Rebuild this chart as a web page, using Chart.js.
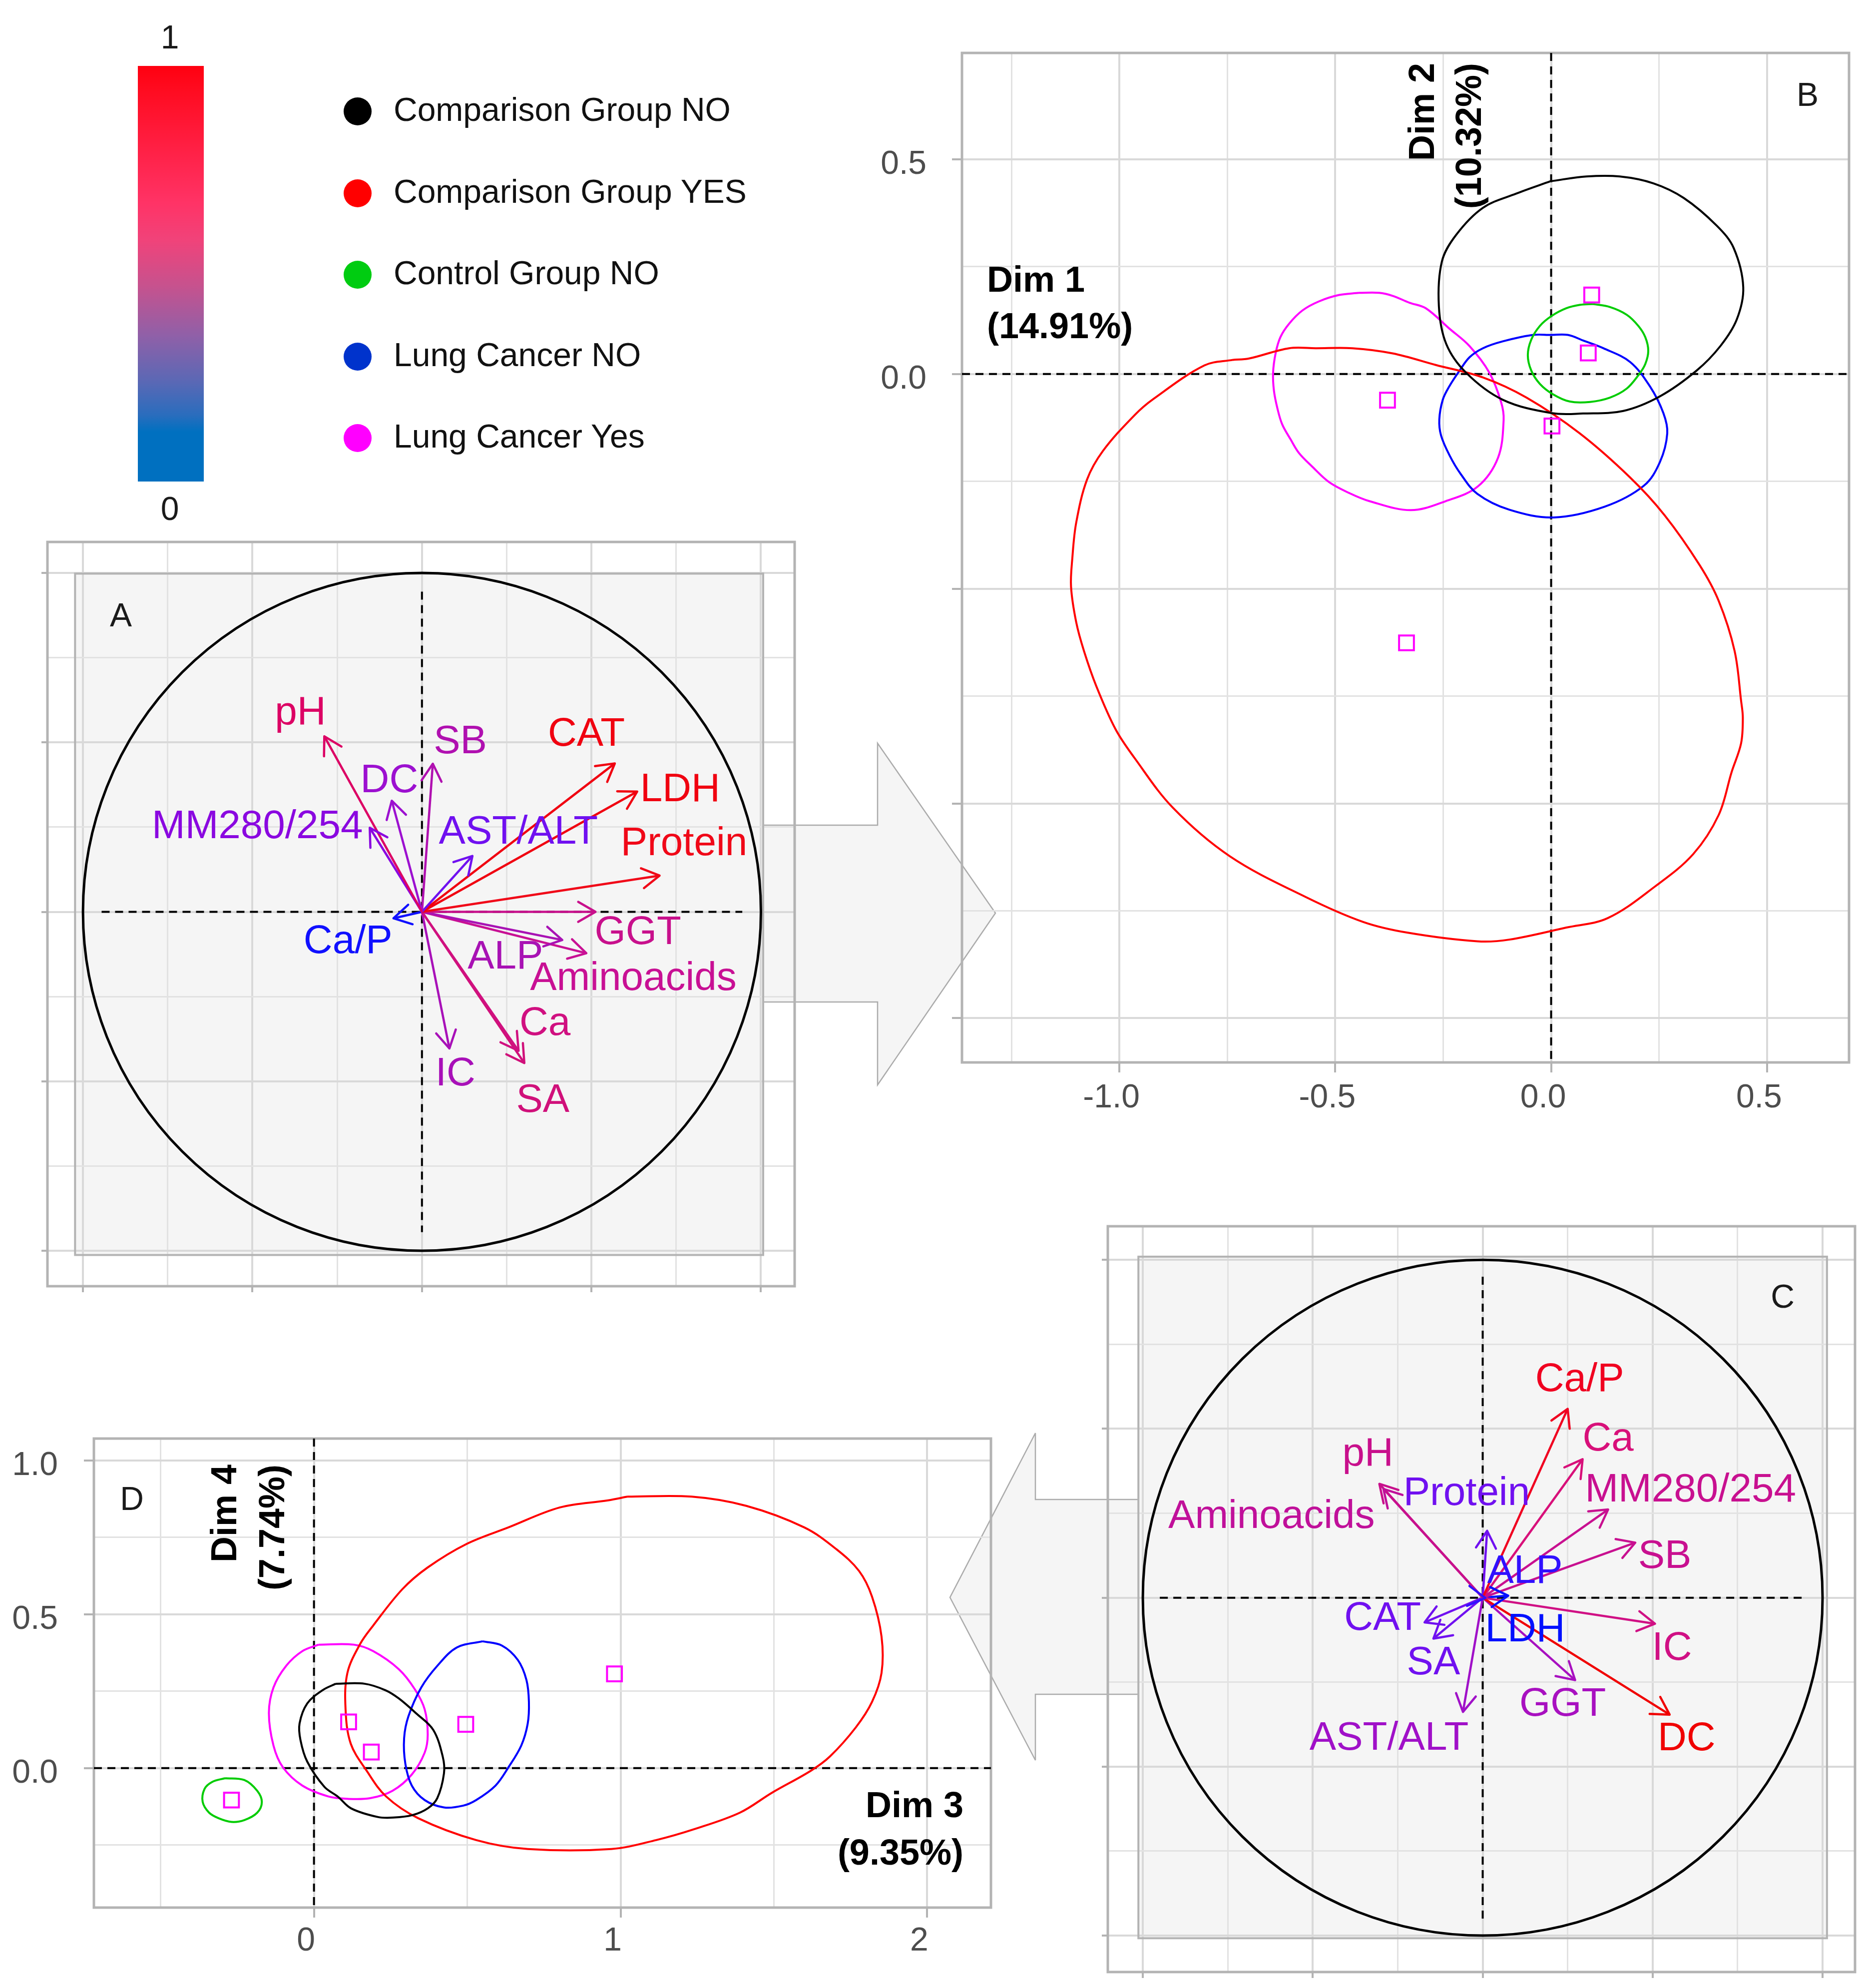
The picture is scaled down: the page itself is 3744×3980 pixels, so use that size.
<!DOCTYPE html>
<html>
<head>
<meta charset="utf-8">
<title>PCA biplots</title>
<script src="https://cdn.jsdelivr.net/npm/chart.js@4.4.0/dist/chart.umd.min.js"></script>
<style>
  html, body { margin: 0; padding: 0; background: #fff; }
  #page { position: relative; width: 3744px; height: 3980px; overflow: hidden;
          font-family: "Liberation Sans", Arial, sans-serif; color: #1a1a1a; }
  #page canvas, #page svg, .t { position: absolute; }
  .t { white-space: nowrap; }
</style>
</head>
<body>
<div id="page">
  <svg width="3744" height="3980" style="left:0;top:0">
    <polygon points="1528,1652 1757,1652 1757,1488 1993,1828 1757,2172 1757,2006 1528,2006" fill="#f5f5f5"/>
    <polyline points="1528,1652 1757,1652 1757,1488 1993,1828 1757,2172 1757,2006 1528,2006" fill="none" stroke="#ababab" stroke-width="2.5"/>
    <polygon points="2280,3002 2073,3002 2073,2869 1902,3198 2073,3524 2073,3392 2280,3392" fill="#f5f5f5"/>
    <polyline points="2280,3002 2073,3002 2073,2869 1902,3198 2073,3524 2073,3392 2280,3392" fill="none" stroke="#ababab" stroke-width="2.5"/>
  </svg>
  <canvas id="chartA" width="1516" height="1510" style="left:79px;top:1081px"></canvas>
  <canvas id="chartB" width="1986" height="2155" style="left:1726px;top:102px"></canvas>
  <canvas id="chartC" width="1516" height="1513" style="left:2202px;top:2451px"></canvas>
  <canvas id="chartD" width="1988" height="1073" style="left:0px;top:2876px"></canvas>
  <div style="position:absolute;left:276px;top:132px;width:132px;height:832px;
    background:linear-gradient(to bottom,#ff0010 0%,#ff0a1e 5%,#ff3366 33%,#f0437a 42%,#c6528e 53%,#8f60a8 65%,#5a68b5 76%,#2a6dbd 84%,#0070c0 88%,#0070c0 100%)"></div>
</div>
<script>
// groups (legend order)
const groups = ['Comparison Group NO', 'Comparison Group YES', 'Control Group NO', 'Lung Cancer NO', 'Lung Cancer Yes'];
const colorbarTicks = ['1', '0'];

// panel A: variable coordinates on Dim 1 / Dim 2
const varsA = ['pH', 'DC', 'MM280/254', 'SB', 'AST/ALT', 'CAT', 'LDH', 'Protein', 'GGT', 'ALP', 'Aminoacids', 'Ca', 'SA', 'IC', 'Ca/P'];
const dim1A = [-0.288, -0.089, -0.154, 0.032, 0.149, 0.569, 0.635, 0.701, 0.512, 0.414, 0.485, 0.285, 0.302, 0.081, -0.084];
const dim2A = [0.518, 0.328, 0.248, 0.437, 0.165, 0.438, 0.355, 0.107, 0.000, -0.083, -0.122, -0.410, -0.446, -0.403, -0.019];

// panel C: variable coordinates on Dim 3 / Dim 4
const varsC = ['Ca/P', 'Ca', 'MM280/254', 'SB', 'IC', 'DC', 'GGT', 'LDH', 'ALP', 'Protein', 'pH', 'Aminoacids', 'CAT', 'SA', 'AST/ALT'];
const dim3C = [0.250, 0.294, 0.369, 0.449, 0.507, 0.550, 0.272, 0.075, 0.008, 0.013, -0.304, -0.292, -0.171, -0.145, -0.058];
const dim4C = [0.559, 0.410, 0.261, 0.163, -0.077, -0.346, -0.244, 0.006, -0.001, 0.198, 0.337, 0.322, -0.073, -0.121, -0.338];

// panel B: ellipse outlines per group (Dim 1, Dim 2)
const ellB_compNo = [[-0.001,0.449],[0.082,0.460],[0.159,0.460],[0.237,0.444],[0.307,0.410],[0.384,0.345],[0.423,0.293],[0.445,0.202],[0.430,0.127],[0.392,0.065],[0.337,0.008],[0.252,-0.052],[0.167,-0.086],[0.074,-0.092],[0.001,-0.091],[-0.112,-0.060],[-0.197,0.003],[-0.243,0.070],[-0.260,0.158],[-0.253,0.262],[-0.220,0.324],[-0.158,0.387],[-0.081,0.420]];
const ellB_compYes = [[-0.737,0.033],[-0.700,0.036],[-0.607,0.060],[-0.545,0.060],[-0.460,0.060],[-0.367,0.048],[-0.267,0.021],[-0.158,-0.008],[-0.057,-0.055],[0.066,-0.138],[0.183,-0.241],[0.263,-0.329],[0.344,-0.445],[0.388,-0.528],[0.425,-0.645],[0.440,-0.761],[0.444,-0.800],[0.440,-0.860],[0.418,-0.927],[0.388,-1.027],[0.329,-1.118],[0.241,-1.193],[0.131,-1.267],[0.035,-1.289],[-0.097,-1.317],[-0.171,-1.321],[-0.332,-1.301],[-0.435,-1.276],[-0.568,-1.218],[-0.744,-1.123],[-0.876,-1.010],[-0.965,-0.894],[-1.009,-0.827],[-1.053,-0.728],[-1.082,-0.645],[-1.100,-0.578],[-1.112,-0.495],[-1.109,-0.429],[-1.100,-0.346],[-1.075,-0.246],[-1.038,-0.179],[-0.965,-0.096],[-0.921,-0.058],[-0.803,0.020]];
const ellB_ctrlNo = [[0.097,0.163],[0.136,0.156],[0.175,0.138],[0.202,0.112],[0.218,0.086],[0.225,0.054],[0.218,0.023],[0.202,-0.003],[0.175,-0.034],[0.136,-0.055],[0.090,-0.065],[0.043,-0.064],[0.004,-0.047],[-0.026,-0.023],[-0.046,0.008],[-0.054,0.044],[-0.046,0.080],[-0.026,0.112],[0.001,0.135],[0.035,0.153],[0.067,0.161]];
const ellB_lungNo = [[-0.001,0.091],[0.039,0.091],[0.074,0.078],[0.121,0.060],[0.183,0.028],[0.229,-0.029],[0.260,-0.091],[0.269,-0.138],[0.252,-0.205],[0.215,-0.260],[0.124,-0.309],[0.006,-0.334],[-0.097,-0.316],[-0.171,-0.279],[-0.210,-0.232],[-0.235,-0.190],[-0.255,-0.143],[-0.259,-0.106],[-0.251,-0.060],[-0.236,-0.029],[-0.212,0.008],[-0.189,0.039],[-0.158,0.060],[-0.112,0.076],[-0.042,0.091]];
const ellB_lungYes = [[-0.445,0.189],[-0.398,0.189],[-0.367,0.182],[-0.328,0.166],[-0.290,0.153],[-0.236,0.106],[-0.189,0.065],[-0.143,0.003],[-0.116,-0.065],[-0.110,-0.107],[-0.123,-0.195],[-0.170,-0.262],[-0.244,-0.296],[-0.325,-0.317],[-0.421,-0.296],[-0.468,-0.277],[-0.514,-0.252],[-0.553,-0.216],[-0.584,-0.184],[-0.603,-0.153],[-0.623,-0.117],[-0.634,-0.080],[-0.642,-0.039],[-0.644,0.003],[-0.638,0.049],[-0.627,0.086],[-0.607,0.117],[-0.576,0.148],[-0.538,0.169],[-0.491,0.184]];
const meanB_x = [0.094, 0.086, 0.002, -0.379, -0.335];
const meanB_y = [0.184, 0.049, -0.121, -0.061, -0.626];

// panel D: ellipse outlines per group (Dim 3, Dim 4)
const ellD_compNo = [[0.071,0.274],[0.165,0.274],[0.233,0.253],[0.277,0.226],[0.333,0.178],[0.389,0.124],[0.420,0.037],[0.424,-0.017],[0.402,-0.098],[0.371,-0.131],[0.321,-0.153],[0.258,-0.161],[0.208,-0.159],[0.121,-0.131],[0.078,-0.093],[0.034,-0.061],[-0.022,0.021],[-0.044,0.091],[-0.047,0.145],[-0.022,0.210],[0.028,0.253]];
const ellD_compYes = [[1.022,0.882],[1.232,0.882],[1.410,0.852],[1.599,0.782],[1.704,0.711],[1.778,0.640],[1.820,0.557],[1.851,0.427],[1.851,0.309],[1.820,0.215],[1.767,0.132],[1.683,0.038],[1.620,-0.009],[1.494,-0.080],[1.389,-0.145],[1.242,-0.198],[1.116,-0.234],[0.970,-0.263],[0.697,-0.263],[0.529,-0.234],[0.340,-0.163],[0.235,-0.092],[0.172,-0.009],[0.120,0.079],[0.103,0.191],[0.109,0.309],[0.151,0.404],[0.193,0.463],[0.288,0.581],[0.371,0.652],[0.497,0.728],[0.634,0.782],[0.802,0.847],[0.959,0.870]];
const ellD_ctrlNo = [[-0.290,-0.033],[-0.227,-0.039],[-0.185,-0.074],[-0.170,-0.110],[-0.185,-0.145],[-0.227,-0.169],[-0.269,-0.175],[-0.311,-0.163],[-0.342,-0.145],[-0.363,-0.110],[-0.357,-0.068],[-0.332,-0.045]];
const ellD_lungNo = [[0.550,0.412],[0.613,0.398],[0.665,0.351],[0.693,0.286],[0.701,0.215],[0.697,0.144],[0.676,0.073],[0.634,0.002],[0.592,-0.057],[0.529,-0.104],[0.487,-0.122],[0.424,-0.128],[0.361,-0.104],[0.319,-0.057],[0.298,0.014],[0.294,0.097],[0.308,0.168],[0.350,0.262],[0.403,0.333],[0.466,0.392]];
const ellD_lungYes = [[0.015,0.401],[0.130,0.401],[0.193,0.380],[0.277,0.321],[0.329,0.256],[0.361,0.191],[0.371,0.109],[0.361,0.050],[0.319,-0.021],[0.256,-0.074],[0.183,-0.098],[0.109,-0.100],[0.046,-0.092],[-0.038,-0.057],[-0.101,0.002],[-0.132,0.073],[-0.147,0.179],[-0.132,0.262],[-0.090,0.333],[-0.038,0.380]];
const meanD_x = [-0.269, 0.113, 0.187, 0.495, 0.980];
const meanD_y = [-0.104, 0.150, 0.052, 0.142, 0.306];

// styles
const groupLine = ['#000000', '#ff0000', '#00cc00', '#0000ff', '#ff00ff'];
const legendDot = ['#000000', '#ff0000', '#00cc11', '#0033cc', '#ff00ff'];
const colA = ['#dc0064', '#9c10d0', '#8a08e0', '#b010b0', '#7010f0', '#f00010', '#f00010', '#f00818', '#c8108c', '#a812b4', '#c81094', '#d01080', '#d0107a', '#a810b8', '#1010ff'];
const offA = [[-48,-46], [-5,-39], [-225,-1], [55,-43], [92,-47], [-57,-57], [86,-3], [49,-63], [85,42], [-114,35], [94,52], [53,-54], [37,76], [12,52], [-91,47]];
const colC = ['#f00020', '#d8107a', '#c81090', '#c81090', '#d01084', '#f00000', '#a810c0', '#0010ff', '#3010ff', '#7010f0', '#c8108c', '#c0109a', '#7010f0', '#7010f0', '#a010c8'];
const offC = [[24,-58], [51,-39], [165,-38], [59,29], [34,50], [34,49], [-25,49], [34,69], [79,-52], [-41,-74], [-23,-59], [-224,56], [-84,-7], [0,49], [-148,54]];

const page = document.getElementById('page');
const near = (v, s) => Math.abs(v / s - Math.round(v / s)) < 1e-6;
const f1 = v => (Math.round(v * 10) / 10).toFixed(1);

// panel background, frame, unit circle and dashed axes
const decor = {
  id: 'decor',
  beforeDraw(chart, args, o) {
    if (!o.panelRect) return;
    const {x, y} = chart.scales, ctx = chart.ctx, r = o.panelRect;
    const L = x.getPixelForValue(r[0]), R = x.getPixelForValue(r[1]);
    const B = y.getPixelForValue(r[2]), T = y.getPixelForValue(r[3]);
    ctx.save();
    ctx.fillStyle = '#f5f5f5';
    ctx.fillRect(L, T, R - L, B - T);
    ctx.restore();
  },
  beforeDatasetsDraw(chart, args, o) {
    const {x, y} = chart.scales, ctx = chart.ctx, a = chart.chartArea;
    ctx.save();
    if (o.panelRect) {
      const r = o.panelRect;
      const L = x.getPixelForValue(r[0]), R = x.getPixelForValue(r[1]);
      const B = y.getPixelForValue(r[2]), T = y.getPixelForValue(r[3]);
      ctx.strokeStyle = '#b3b3b3'; ctx.lineWidth = 4;
      ctx.strokeRect(L, T, R - L, B - T);
    }
    ctx.strokeStyle = '#b3b3b3'; ctx.lineWidth = 5;
    ctx.strokeRect(a.left, a.top, a.right - a.left, a.bottom - a.top);
    const px = x.getPixelForValue(0), py = y.getPixelForValue(0);
    if (o.circle) {
      ctx.strokeStyle = '#000'; ctx.lineWidth = 5;
      ctx.beginPath();
      ctx.ellipse(px, py, x.getPixelForValue(1) - px, py - y.getPixelForValue(1), 0, 0, 2 * Math.PI);
      ctx.stroke();
    }
    const e = o.dashExtent;
    const x0 = e ? x.getPixelForValue(-e) : a.left, x1 = e ? x.getPixelForValue(e) : a.right;
    const y0 = e ? y.getPixelForValue(e) : a.top, y1 = e ? y.getPixelForValue(-e) : a.bottom;
    ctx.setLineDash([16, 11]);
    ctx.strokeStyle = '#000'; ctx.lineWidth = 4;
    ctx.beginPath();
    ctx.moveTo(px, y0); ctx.lineTo(px, y1);
    ctx.moveTo(x0, py); ctx.lineTo(x1, py);
    ctx.stroke();
    ctx.restore();
  }
};

// open arrow heads and variable names at the vector tips
const vectorHeads = {
  id: 'vectorHeads',
  afterDatasetsDraw(chart) {
    const ctx = chart.ctx, items = [];
    chart.data.datasets.forEach((ds, i) => {
      if (!ds.isArrow) return;
      const pts = chart.getDatasetMeta(i).data;
      items.push({ds, a: pts[0], b: pts[1]});
    });
    if (!items.length) return;
    ctx.save();
    ctx.lineWidth = 4.5; ctx.lineCap = 'round'; ctx.lineJoin = 'round';
    items.forEach(({ds, a, b}) => {
      const ang = Math.atan2(b.y - a.y, b.x - a.x), h = 40, w = Math.PI / 6;
      ctx.strokeStyle = ds.borderColor;
      ctx.beginPath();
      ctx.moveTo(b.x - h * Math.cos(ang - w), b.y - h * Math.sin(ang - w));
      ctx.lineTo(b.x, b.y);
      ctx.lineTo(b.x - h * Math.cos(ang + w), b.y - h * Math.sin(ang + w));
      ctx.stroke();
    });
    ctx.font = '80px "Liberation Sans", Arial, sans-serif';
    ctx.textAlign = 'center'; ctx.textBaseline = 'middle';
    items.forEach(({ds, b}) => {
      ctx.fillStyle = ds.borderColor;
      ctx.fillText(ds.label, b.x + ds.labelDx, b.y + ds.labelDy);
    });
    ctx.restore();
  }
};

function axis(pos, o) {
  return {
    type: 'linear', position: pos, min: o.min, max: o.max,
    afterFit: s => {
      if (pos === 'left') s.width = o.size; else s.height = o.size;
      s.paddingTop = 0; s.paddingBottom = 0; s.paddingLeft = 0; s.paddingRight = 0;
    },
    border: { display: false },
    grid: {
      color: c => near(c.tick.value, o.major) ? '#d9d9d9' : '#e2e2e2',
      lineWidth: c => near(c.tick.value, o.major) ? 4 : 3,
      tickLength: o.tickLen,
      tickColor: c => near(c.tick.value, o.major) ? '#b3b3b3' : 'rgba(0,0,0,0)',
      tickWidth: 4
    },
    ticks: {
      stepSize: o.step, includeBounds: false, autoSkip: false, maxRotation: 0, minRotation: 0,
      display: !!o.fmt, callback: o.fmt || (() => ''),
      color: '#4d4d4d', font: { size: 66 }, padding: o.pad || 0, labelOffset: o.lo || 0
    }
  };
}

function panel(id, xo, yo, datasets, decorOpts, padR) {
  return new Chart(document.getElementById(id), {
    type: 'scatter',
    data: { datasets },
    options: {
      responsive: false, animation: false, devicePixelRatio: 1, events: [],
      layout: { autoPadding: false, padding: { top: 4, right: padR, left: 0, bottom: 0 } },
      scales: { x: axis('bottom', xo), y: axis('left', yo) },
      plugins: { legend: { display: false }, tooltip: { enabled: false }, decor: decorOpts }
    },
    plugins: [decor, vectorHeads]
  });
}

function arrowSets(names, xs, ys, cols, offs) {
  return names.map((n, i) => ({
    label: n, data: [{x: 0, y: 0}, {x: xs[i], y: ys[i]}],
    showLine: true, borderColor: cols[i], borderWidth: 4.5, pointRadius: 0,
    isArrow: true, labelDx: offs[i][0], labelDy: offs[i][1]
  }));
}

function ellipseSet(name, pts, col) {
  const data = pts.map(p => ({x: p[0], y: p[1]}));
  data.push({x: pts[0][0], y: pts[0][1]});
  return { label: name, data, showLine: true, borderColor: col, borderWidth: 4, pointRadius: 0, tension: 0.35, fill: false };
}

function meanSet(xs, ys) {
  return { label: 'group centres', data: xs.map((v, i) => ({x: v, y: ys[i]})), showLine: false,
    pointStyle: 'rect', pointRadius: 21, pointBorderColor: '#ff00ff', pointBorderWidth: 4,
    pointBackgroundColor: 'rgba(0,0,0,0)' };
}

// A: correlation circle, Dim 1 / Dim 2
panel('chartA',
  { min: -1.1048, max: 1.0995, step: 0.25, major: 0.5, tickLen: 12, size: 16 },
  { min: -1.1046, max: 1.0915, step: 0.25, major: 0.5, tickLen: 12, size: 16 },
  arrowSets(varsA, dim1A, dim2A, colA, offA),
  { panelRect: [-1.0233, 1.0066, -1.0125, 0.998], circle: true, dashExtent: 0.945 }, 4);

// C: correlation circle, Dim 3 / Dim 4
panel('chartC',
  { min: -1.103, max: 1.0955, step: 0.25, major: 0.5, tickLen: 12, size: 16 },
  { min: -1.108, max: 1.0995, step: 0.25, major: 0.5, tickLen: 12, size: 16 },
  arrowSets(varsC, dim3C, dim4C, colC, offC),
  { panelRect: [-1.013, 1.013, -1.008, 1.0095], circle: true, dashExtent: 0.95 }, 4);

// B: group ellipses, Dim 1 / Dim 2
const ellB = [ellB_compNo, ellB_compYes, ellB_ctrlNo, ellB_lungNo, ellB_lungYes];
panel('chartB',
  { min: -1.3646, max: 0.690, step: 0.25, major: 0.5, tickLen: 20, size: 130, pad: 12, lo: -16,
    fmt: v => near(v, 0.5) ? f1(v) : '' },
  { min: -1.603, max: 0.7476, step: 0.25, major: 0.5, tickLen: 20, size: 200, pad: 51, lo: 11,
    fmt: v => (near(v, 0.5) && v > -0.01) ? f1(v) : '' },
  [meanSet(meanB_x, meanB_y)].concat(ellB.map((e, i) => ellipseSet(groups[i], e, groupLine[i]))),
  {}, 10);

// D: group ellipses, Dim 3 / Dim 4
const ellD = [ellD_compNo, ellD_compYes, ellD_ctrlNo, ellD_lungNo, ellD_lungYes];
panel('chartD',
  { min: -0.7177, max: 2.2078, step: 0.5, major: 1, tickLen: 20, size: 130, pad: 8, lo: -16,
    fmt: v => near(v, 1) ? String(Math.round(v)) : '' },
  { min: -0.4534, max: 1.0708, step: 0.25, major: 0.5, tickLen: 20, size: 188, pad: 52, lo: 11,
    fmt: v => near(v, 0.5) ? f1(v) : '' },
  [meanSet(meanD_x, meanD_y)].concat(ellD.map((e, i) => ellipseSet(groups[i], e, groupLine[i]))),
  {}, 4);

// text
function text(str, css) {
  const d = document.createElement('div');
  d.className = 't';
  d.textContent = str;
  Object.assign(d.style, css);
  page.appendChild(d);
  return d;
}
function centred(str, cx, cy, size, extra) {
  return text(str, Object.assign({ left: (cx - 300) + 'px', top: (cy - 40) + 'px', width: '600px',
    textAlign: 'center', lineHeight: '80px', fontSize: size + 'px' }, extra || {}));
}

centred(colorbarTicks[0], 340, 74, 66);
centred(colorbarTicks[1], 340, 1018, 66);
groups.forEach((g, i) => {
  const cy = 223 + i * 163.5;
  const dot = document.createElement('div');
  Object.assign(dot.style, { position: 'absolute', left: (716 - 28) + 'px', top: (cy - 28) + 'px',
    width: '56px', height: '56px', borderRadius: '50%', background: legendDot[i] });
  page.appendChild(dot);
  text(g, { left: '788px', top: (cy - 44) + 'px', lineHeight: '80px', fontSize: '66px', color: '#111' });
});

centred('A', 242, 1231, 66);
centred('B', 3619, 189, 66);
centred('C', 3569, 2595, 66);
centred('D', 264, 3000, 66);

const bold = { fontWeight: 'bold', fontSize: '72px', color: '#000' };
const dim1 = text('', Object.assign({ left: '1976px', top: '513px', lineHeight: '93px' }, bold));
dim1.innerHTML = 'Dim 1<br>(14.91%)';
const dim2 = text('', Object.assign({ left: '2799px', top: '526px', width: '400px', textAlign: 'right',
  lineHeight: '94px', transformOrigin: '0 0', transform: 'rotate(-90deg)' }, bold));
dim2.innerHTML = 'Dim 2<br>(10.32%)';
const dim3 = text('', Object.assign({ left: '1529px', top: '3566px', width: '400px', textAlign: 'right',
  lineHeight: '95px' }, bold));
dim3.innerHTML = 'Dim 3<br>(9.35%)';
const dim4 = text('', Object.assign({ left: '400px', top: '3332px', width: '400px', textAlign: 'right',
  lineHeight: '96px', transformOrigin: '0 0', transform: 'rotate(-90deg)' }, bold));
dim4.innerHTML = 'Dim 4<br>(7.74%)';
</script>
</body>
</html>
